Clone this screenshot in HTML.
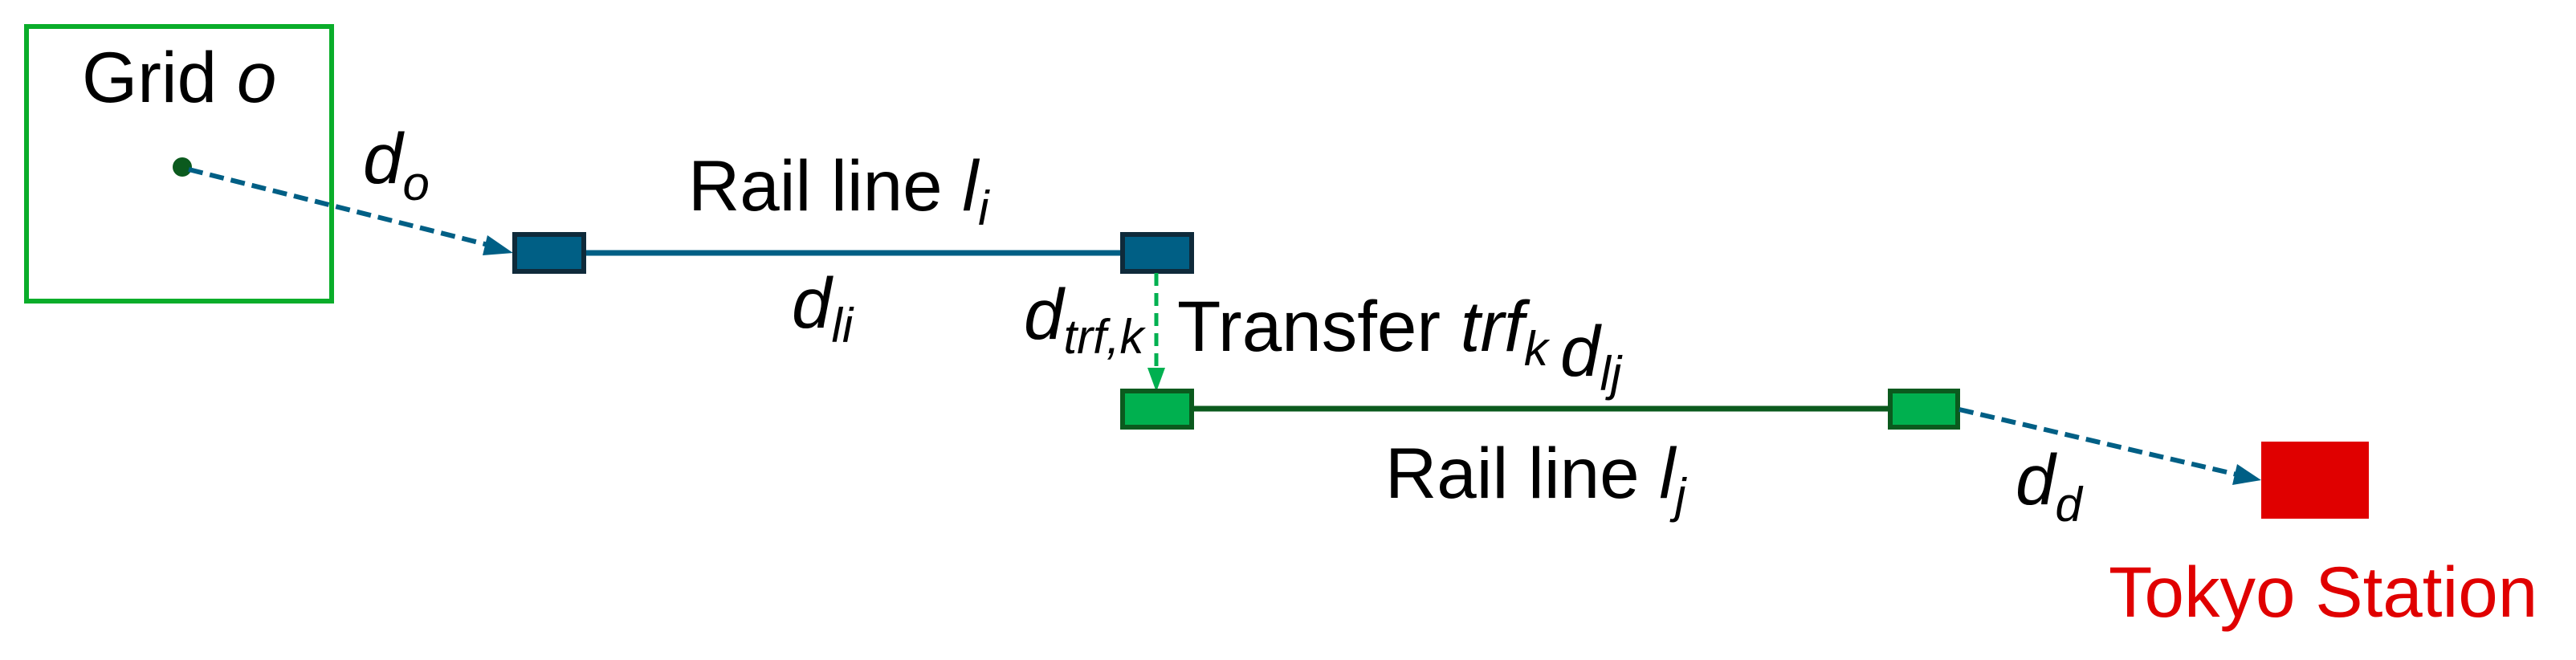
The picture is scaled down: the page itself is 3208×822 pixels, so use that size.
<!DOCTYPE html>
<html><head><meta charset="utf-8"><style>
html,body{margin:0;padding:0;background:#fff;}
svg{display:block;}
text{font-family:"Liberation Sans",Arial,sans-serif;}
</style></head><body>
<svg width="3208" height="822" viewBox="0 0 3208 822" xmlns="http://www.w3.org/2000/svg">
<defs>
<marker id="ab" markerWidth="10" markerHeight="10" refX="9" refY="5" orient="auto" markerUnits="userSpaceOnUse" viewBox="0 0 10 10">
</marker>
</defs>
<!-- Grid box -->
<rect x="33" y="33" width="380" height="342" fill="none" stroke="#0aad2a" stroke-width="6"/>
<text x="102" y="127" font-size="89" fill="#000">Grid <tspan font-style="italic">o</tspan></text>
<circle cx="227" cy="208" r="12" fill="#0b5a1e"/>
<!-- d_o arrow -->
<line x1="235" y1="211" x2="612" y2="306" stroke="#005f85" stroke-width="6" stroke-dasharray="18,9"/>
<polygon points="639,315 607,293 601,318" fill="#005f85"/>
<text x="452" y="228" font-size="89" font-style="italic">d<tspan font-size="60" dy="21">o</tspan></text>
<!-- Rail line i -->
<line x1="728" y1="315" x2="1396" y2="315" stroke="#005f85" stroke-width="7"/>
<rect x="641" y="292" width="86" height="46" fill="#005f85" stroke="#0f2a3a" stroke-width="6"/>
<rect x="1398" y="292" width="86" height="46" fill="#005f85" stroke="#0f2a3a" stroke-width="6"/>
<text x="857" y="262" font-size="89">Rail line <tspan font-style="italic">l<tspan font-size="60" dy="18">i</tspan></tspan></text>
<text x="986" y="408" font-size="89" font-style="italic">d<tspan font-size="60" dy="18">li</tspan></text>
<!-- transfer -->
<line x1="1440" y1="340" x2="1440" y2="462" stroke="#00b050" stroke-width="5" stroke-dasharray="16,9"/>
<polygon points="1440,488 1429,458 1451,458" fill="#00b050"/>
<text x="1275" y="422" font-size="89" font-style="italic">d<tspan font-size="60" dy="18">trf,k</tspan></text>
<text x="1466" y="437" font-size="89">Transfer <tspan font-style="italic">trf<tspan font-size="60" dy="18">k</tspan></tspan></text>
<text x="1943" y="468" font-size="89" font-style="italic">d<tspan font-size="60" dy="18">lj</tspan></text>
<!-- Rail line j -->
<line x1="1485" y1="509" x2="2352" y2="509" stroke="#0b5a1e" stroke-width="7"/>
<rect x="1398" y="487" width="86" height="45" fill="#00b04f" stroke="#0b5a1e" stroke-width="6"/>
<rect x="2354" y="487" width="84" height="45" fill="#00b04f" stroke="#0b5a1e" stroke-width="6"/>
<text x="1725" y="620" font-size="89">Rail line <tspan font-style="italic">l<tspan font-size="60" dy="18">j</tspan></tspan></text>
<!-- d_d arrow -->
<line x1="2440" y1="510" x2="2790" y2="592" stroke="#005f85" stroke-width="6" stroke-dasharray="18,9"/>
<polygon points="2816,598 2786,578 2780,604" fill="#005f85"/>
<text x="2510" y="628" font-size="89" font-style="italic">d<tspan font-size="60" dy="21">d</tspan></text>
<!-- Tokyo station -->
<rect x="2816" y="550" width="134" height="96" fill="#e00000"/>
<text x="2626" y="768" font-size="89" fill="#e00000">Tokyo Station</text>
</svg>
</body></html>
